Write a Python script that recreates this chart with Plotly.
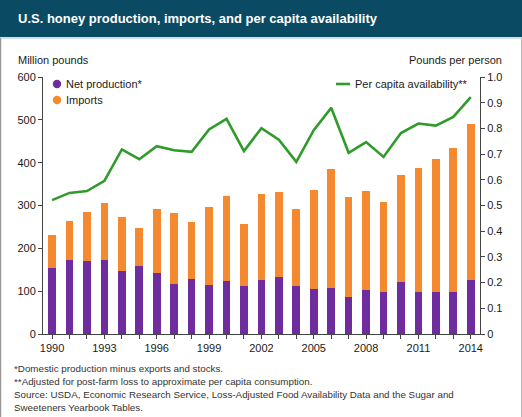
import plotly.graph_objects as go

years = list(range(1990, 2015))
net_production = [154, 173, 171, 173, 148, 159, 142, 116, 128, 114, 124, 112, 125,
                  132, 113, 104, 107, 86, 103, 99, 121, 99, 97, 99, 126]
totals = [230, 264, 284, 305, 272, 247, 291, 283, 261, 297, 322, 257, 327,
          332, 292, 336, 385, 319, 333, 308, 372, 387, 408, 435, 490]
imports = [t - n for t, n in zip(totals, net_production)]
per_capita = [0.521, 0.549, 0.556, 0.596, 0.718, 0.680, 0.731, 0.715, 0.709, 0.796,
              0.837, 0.712, 0.801, 0.756, 0.670, 0.793, 0.880, 0.705, 0.747, 0.689,
              0.782, 0.819, 0.811, 0.845, 0.922]
tick_labels = [str(y) if (y - 1990) % 3 == 0 else "" for y in years]

PURPLE = "#6e2c9e"
ORANGE = "#f5892f"
GREEN = "#2f9b2a"
FONT = "Liberation Sans, Arial, sans-serif"
TXT = "#1a1a1a"

W, H = 522, 417
ml, mr, mt, mb = 43, 42, 77, 83
pw, ph = W - ml - mr, H - mt - mb


def px(x):
    return (x - ml) / pw


def py(y):
    return 1 - (y - mt) / ph


fig = go.Figure()
fig.add_trace(go.Bar(x=years, y=net_production, name="Net production*",
                     marker=dict(color=PURPLE, line=dict(width=0)), yaxis="y"))
fig.add_trace(go.Bar(x=years, y=imports, name="Imports",
                     marker=dict(color=ORANGE, line=dict(width=0)), yaxis="y"))
fig.add_trace(go.Scatter(x=years, y=per_capita, name="Per capita availability**",
                         mode="lines", line=dict(color=GREEN, width=2.6), yaxis="y2"))

gradient_svg = (
    "data:image/svg+xml;utf8,"
    "<svg xmlns='http://www.w3.org/2000/svg' width='522' height='37' preserveAspectRatio='none'>"
    "<defs><linearGradient id='g' x1='0' y1='0' x2='1' y2='0'>"
    "<stop offset='0' stop-color='%23093650'/>"
    "<stop offset='0.6' stop-color='%230b4d66'/>"
    "<stop offset='1' stop-color='%23107283'/>"
    "</linearGradient></defs>"
    "<rect width='522' height='37' fill='url(%23g)'/></svg>"
)

r = 4.2
shapes = [
    dict(type="rect", xref="paper", yref="paper", x0=px(0), x1=px(W), y0=py(37), y1=py(0),
         fillcolor="#0b4a63", line=dict(width=0), layer="below"),
    dict(type="line", xref="paper", yref="paper", x0=px(0), x1=px(W), y0=py(38), y1=py(38),
         line=dict(color="#9cc3cc", width=1)),
    dict(type="line", xref="paper", yref="paper", x0=px(0.5), x1=px(0.5), y0=py(38), y1=py(H),
         line=dict(color="#999999", width=1.5)),
    dict(type="line", xref="paper", yref="paper", x0=px(521.5), x1=px(521.5), y0=py(38), y1=py(H),
         line=dict(color="#bbbbbb", width=1)),
    # legend symbols
    dict(type="circle", xref="paper", yref="paper", x0=px(57 - r), x1=px(57 + r),
         y0=py(84 + r), y1=py(84 - r), fillcolor=PURPLE, line=dict(width=0)),
    dict(type="circle", xref="paper", yref="paper", x0=px(57 - r), x1=px(57 + r),
         y0=py(100 + r), y1=py(100 - r), fillcolor=ORANGE, line=dict(width=0)),
    dict(type="line", xref="paper", yref="paper", x0=px(336), x1=px(350), y0=py(84), y1=py(84),
         line=dict(color=GREEN, width=2.6)),
]

annotations = [
    dict(text="<b>U.S. honey production, imports, and per capita availability</b>",
         x=px(16), y=py(19), xref="paper", yref="paper", xanchor="left", yanchor="middle",
         showarrow=False, font=dict(family=FONT, size=13, color="white")),
    dict(text="Million pounds", x=px(16), y=py(60), xref="paper", yref="paper",
         xanchor="left", yanchor="middle", showarrow=False,
         font=dict(family=FONT, size=11, color=TXT)),
    dict(text="Pounds per person", x=px(504), y=py(60), xref="paper", yref="paper",
         xanchor="right", yanchor="middle", showarrow=False,
         font=dict(family=FONT, size=11, color=TXT)),
    dict(text="Net production*", x=px(64), y=py(84), xref="paper", yref="paper",
         xanchor="left", yanchor="middle", showarrow=False,
         font=dict(family=FONT, size=11, color=TXT)),
    dict(text="Imports", x=px(64), y=py(100), xref="paper", yref="paper",
         xanchor="left", yanchor="middle", showarrow=False,
         font=dict(family=FONT, size=11, color=TXT)),
    dict(text="Per capita availability**", x=px(353), y=py(84), xref="paper", yref="paper",
         xanchor="left", yanchor="middle", showarrow=False,
         font=dict(family=FONT, size=11, color=TXT)),
]

footnotes = [
    "*Domestic production minus exports and stocks.",
    "**Adjusted for post-farm loss to approximate per capita consumption.",
    "Source: USDA, Economic Research Service, Loss-Adjusted Food Availability Data and the Sugar and",
    "Sweeteners Yearbook Tables.",
]
for i, t in enumerate(footnotes):
    annotations.append(dict(text=t, x=px(12), y=py(368 + i * 13.2), xref="paper", yref="paper",
                            xanchor="left", yanchor="middle", showarrow=False,
                            font=dict(family=FONT, size=9.8, color="#333333")))

axis_common = dict(ticks="outside", ticklen=4, tickcolor="#444", showline=True,
                   linecolor="#444", linewidth=1, showgrid=False, zeroline=False,
                   tickfont=dict(family=FONT, size=11, color=TXT))

fig.update_layout(
    width=W, height=H,
    margin=dict(l=ml, r=mr, t=mt, b=mb, pad=0),
    paper_bgcolor="white", plot_bgcolor="white",
    barmode="stack", bargap=0.56,
    font=dict(family=FONT, size=11, color=TXT),
    showlegend=False,
    xaxis=dict(range=[1989.48, 2014.53], tickmode="array", tickvals=years,
               ticktext=tick_labels, **axis_common),
    yaxis=dict(range=[0, 600], dtick=100, **axis_common),
    yaxis2=dict(range=[0, 1.0], overlaying="y", side="right",
                tickvals=[i / 10 for i in range(11)],
                ticktext=["0"] + [f"{i/10:.1f}" for i in range(1, 11)], **axis_common),
    shapes=shapes,
    annotations=annotations,
    images=[dict(source=gradient_svg, xref="paper", yref="paper", x=px(0), y=py(0),
                 sizex=px(W) - px(0), sizey=py(0) - py(37), xanchor="left", yanchor="top",
                 sizing="stretch", layer="below")],
)

fig.write_html("out.html", config={"displayModeBar": False},
               post_script="document.body.style.margin='0';document.body.style.padding='0';")
